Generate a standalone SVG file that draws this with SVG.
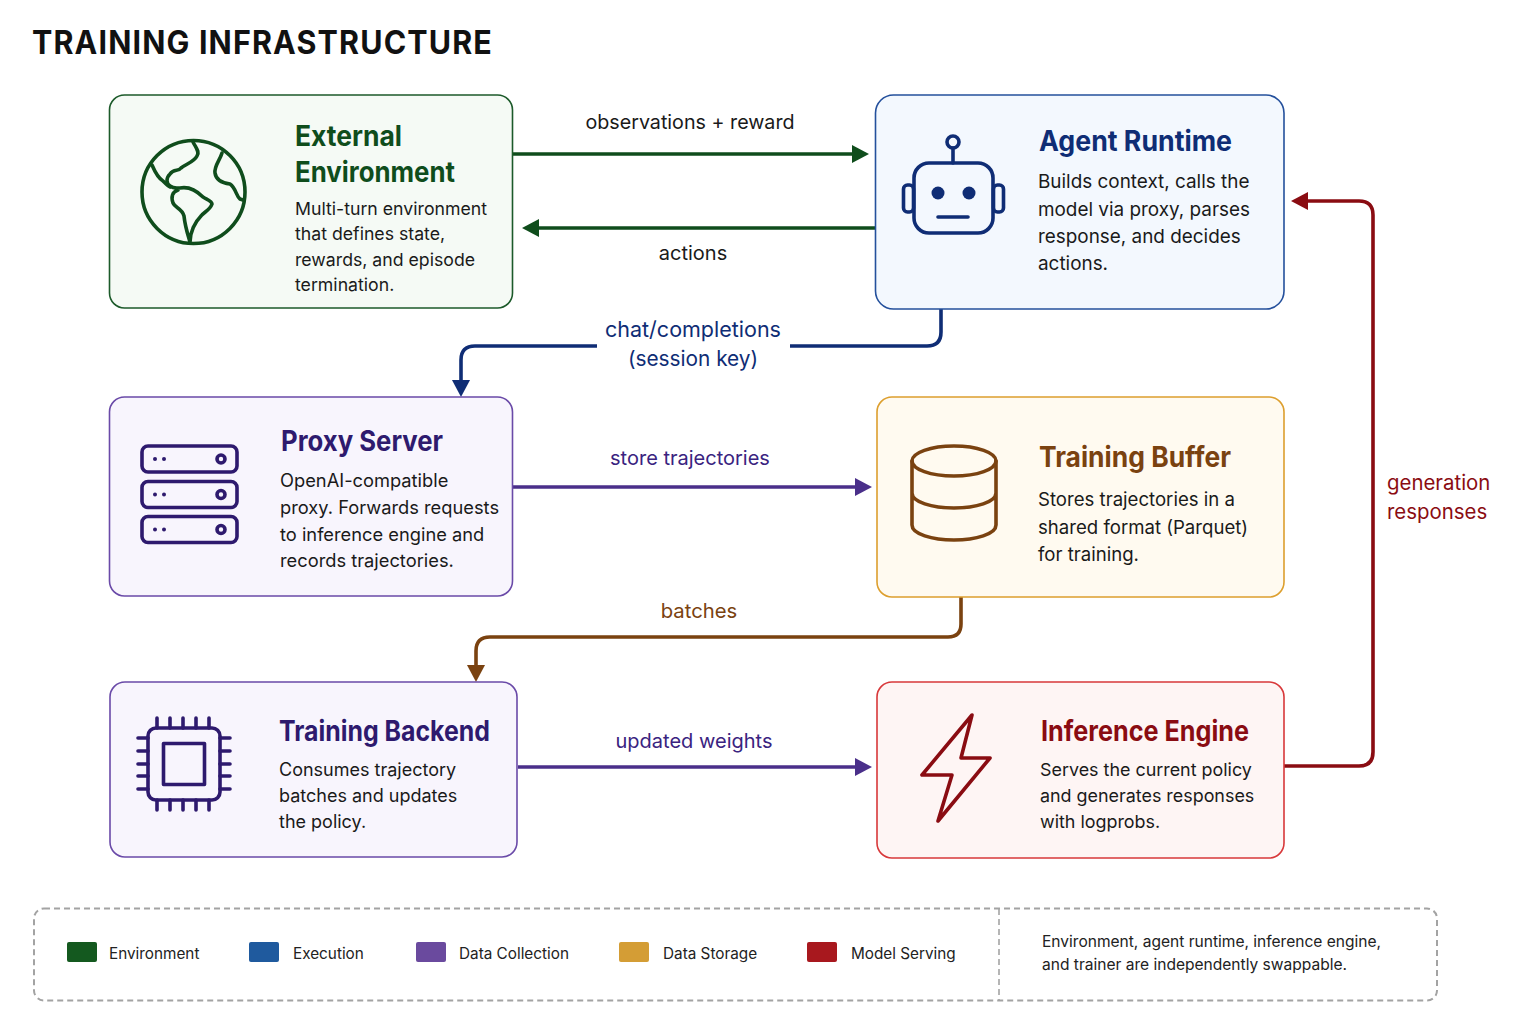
<svg xmlns="http://www.w3.org/2000/svg" width="1535" height="1024" viewBox="0 0 1535 1024">
<style>
text{font-family:Inter,"Noto Sans","Liberation Sans",sans-serif}
.box{stroke-width:1.6}
.t{font-size:28px;font-weight:700}
.b{fill:#1a1a1a}
.l{font-size:20px;text-anchor:middle}
.k{font-size:15.300px;fill:#222}
.i{fill:none;stroke-width:3.6;stroke-linecap:round;stroke-linejoin:round}
.c{fill:none;stroke-width:3.6}
.n{stroke:#0f2d75}.g{stroke:#0f4d1c}.p{stroke:#2e1a6e}.o{stroke:#7a4210}.r{stroke:#8a0c12}
</style>
<defs>
<marker id="ag" markerUnits="userSpaceOnUse" markerWidth="18" markerHeight="20" refX="0" refY="10" orient="auto"><path d="M0,1 L17,10 L0,19z" fill="#0f4d1c"/></marker>
<marker id="an" markerUnits="userSpaceOnUse" markerWidth="18" markerHeight="20" refX="0" refY="10" orient="auto"><path d="M0,1 L17,10 L0,19z" fill="#0f2d75"/></marker>
<marker id="ap" markerUnits="userSpaceOnUse" markerWidth="18" markerHeight="20" refX="0" refY="10" orient="auto"><path d="M0,1 L17,10 L0,19z" fill="#4a2f8a"/></marker>
<marker id="ao" markerUnits="userSpaceOnUse" markerWidth="18" markerHeight="20" refX="0" refY="10" orient="auto"><path d="M0,1 L17,10 L0,19z" fill="#7a4210"/></marker>
<marker id="ar" markerUnits="userSpaceOnUse" markerWidth="18" markerHeight="20" refX="0" refY="10" orient="auto"><path d="M0,1 L17,10 L0,19z" fill="#8a0c12"/></marker>
</defs>
<rect width="1535" height="1024" fill="#fff"/>
<text x="32" y="54" font-size="32" font-weight="700" letter-spacing="1.2" fill="#111" textLength="461" lengthAdjust="spacingAndGlyphs">TRAINING INFRASTRUCTURE</text>

<g id="connectors">
<path class="c" stroke="#0f4d1c" d="M513,154H852" marker-end="url(#ag)"/>
<path class="c" stroke="#0f4d1c" d="M875,228H539" marker-end="url(#ag)"/>
<path class="c" stroke="#0f2d75" d="M941,309V332Q941,346 927,346H790M597,346H475Q461,346 461,360V380" marker-end="url(#an)"/>
<path class="c" stroke="#4a2f8a" d="M513,487H855" marker-end="url(#ap)"/>
<path class="c" stroke="#7a4210" d="M961,597V624Q961,637 948,637H490Q476,637 476,651V665" marker-end="url(#ao)"/>
<path class="c" stroke="#4a2f8a" d="M518,767H855" marker-end="url(#ap)"/>
<path class="c" stroke="#8a0c12" d="M1284,766H1359Q1373,766 1373,752V215Q1373,201 1359,201H1308" marker-end="url(#ar)"/>
<text class="l" x="690" y="129" font-size="19.700" style="font-size:19.700px" fill="#1a1a1a">observations + reward</text>
<text class="l" x="693" y="260" fill="#1a1a1a">actions</text>
<text class="l" x="693" y="337" style="font-size:21.500px" fill="#0f2d75">chat/completions</text>
<text class="l" x="693" y="366" style="font-size:20.800px" fill="#0f2d75">(session key)</text>
<text class="l" x="690" y="465" fill="#3a2380">store trajectories</text>
<text class="l" x="699" y="618" style="font-size:20.300px" fill="#7a4210">batches</text>
<text class="l" x="694" y="748" fill="#3a2380">updated weights</text>
<text x="1387" y="490" font-size="20.400" fill="#8a0c12">generation</text>
<text x="1387" y="519" font-size="20.400" fill="#8a0c12">responses</text>
</g>

<g id="external-environment">
<rect class="box" x="109.500" y="95" width="403" height="213" rx="15" fill="#f5faf5" stroke="#1c5a2a"/>
<g class="i g">
<circle cx="193.500" cy="192" r="51.500"/>
<path d="M193,142C196,148 200,152 197,156C194,162 186,164 181,168C178,172 174,168 170,174C166,178 166,183 170,186C174,189 176,188 180,188C190,186 198,192 203,197C208,200 212,201 212,204C210,210 204,212 201,216C195,222 190,232 190,242C187,232 185,226 184,216C182,208 175,208 173,203C171,197 172,192 178,190"/>
<path d="M152,165C155,172 158,178 163,181C166,184 168,186 170,187"/>
<path d="M222,153C220,160 214,166 215,173C216,180 222,183 230,184C236,188 236,196 240,199L243,200"/>
</g>
<text class="t" x="295" y="146" fill="#0f4d1c" textLength="107" lengthAdjust="spacingAndGlyphs">External</text>
<text class="t" x="295" y="182" fill="#0f4d1c" textLength="160" lengthAdjust="spacingAndGlyphs">Environment</text>
<g font-size="17.700">
<text class="b" x="295" y="215">Multi-turn environment</text>
<text class="b" x="295" y="240">that defines state,</text>
<text class="b" x="295" y="266">rewards, and episode</text>
<text class="b" x="295" y="291">termination.</text>
</g>
</g>

<g id="agent-runtime">
<rect class="box" x="875.500" y="95" width="408.500" height="214" rx="18" fill="#f3f8fe" stroke="#24509c"/>
<g class="i n">
<rect x="914" y="163" width="79" height="70" rx="15"/>
<rect x="903.500" y="185" width="10" height="27" rx="4"/>
<rect x="993.500" y="185" width="10" height="27" rx="4"/>
<circle cx="953" cy="142" r="6"/>
<path d="M953,148V163M938,217H968"/>
</g>
<circle cx="938" cy="193" r="6.500" fill="#0f2d75"/><circle cx="969" cy="193" r="6.500" fill="#0f2d75"/>
<text class="t" x="1039" y="151" fill="#0f2d75" textLength="193" lengthAdjust="spacingAndGlyphs">Agent Runtime</text>
<g font-size="18.900">
<text class="b" x="1038" y="188">Builds context, calls the</text>
<text class="b" x="1038" y="216">model via proxy, parses</text>
<text class="b" x="1038" y="243">response, and decides</text>
<text class="b" x="1038" y="270">actions.</text>
</g>
</g>

<g id="proxy-server">
<rect class="box" x="109.500" y="397" width="403" height="199" rx="15" fill="#f8f5fd" stroke="#6a4aa8"/>
<g class="i p">
<rect x="142" y="446" width="95" height="26" rx="6"/>
<rect x="142" y="481.500" width="95" height="26" rx="6"/>
<rect x="142" y="516.500" width="95" height="26" rx="6"/>
<circle cx="221" cy="459" r="4"/><circle cx="221" cy="494.500" r="4"/><circle cx="221" cy="529.500" r="4"/>
</g>
<g fill="#2e1a6e"><circle cx="155" cy="459" r="2"/><circle cx="164" cy="459" r="2"/><circle cx="155" cy="494.500" r="2"/><circle cx="164" cy="494.500" r="2"/><circle cx="155" cy="529.500" r="2"/><circle cx="164" cy="529.500" r="2"/></g>
<text class="t" x="281" y="451" fill="#2e1a6e" textLength="162" lengthAdjust="spacingAndGlyphs">Proxy Server</text>
<g font-size="18.300">
<text class="b" x="280" y="487">OpenAI-compatible</text>
<text class="b" x="280" y="514">proxy. Forwards requests</text>
<text class="b" x="280" y="541">to inference engine and</text>
<text class="b" x="280" y="567">records trajectories.</text>
</g>
</g>

<g id="training-buffer">
<rect class="box" x="877" y="397" width="407" height="200" rx="15" fill="#fffaf0" stroke="#dd9f2e"/>
<g class="i o">
<ellipse cx="954" cy="461" rx="42" ry="15"/>
<path d="M912,461V525C912,534 932,540 954,540C976,540 996,534 996,525V461M912,493C912,502 932,508 954,508C976,508 996,502 996,493"/>
</g>
<text class="t" x="1039" y="467" fill="#7a4210" textLength="192" lengthAdjust="spacingAndGlyphs">Training Buffer</text>
<g font-size="18.600">
<text class="b" x="1038" y="506">Stores trajectories in a</text>
<text class="b" x="1038" y="534">shared format (Parquet)</text>
<text class="b" x="1038" y="561">for training.</text>
</g>
</g>

<g id="training-backend">
<rect class="box" x="110" y="682" width="407" height="175" rx="15" fill="#f8f5fd" stroke="#6a4aa8"/>
<g class="i p">
<rect x="148" y="728" width="72" height="72" rx="8"/>
<rect x="163.500" y="743.500" width="41" height="41"/>
<path d="M157,718V728M170,718V728M183,718V728M196,718V728M209,718V728M157,800V810M170,800V810M183,800V810M196,800V810M209,800V810M138,738H148M138,751H148M138,764H148M138,776H148M138,789H148M220,738H230M220,751H230M220,764H230M220,776H230M220,789H230"/>
</g>
<text class="t" x="279" y="741" fill="#2e1a6e" textLength="211" lengthAdjust="spacingAndGlyphs">Training Backend</text>
<g font-size="18">
<text class="b" x="279" y="776">Consumes trajectory</text>
<text class="b" x="279" y="802">batches and updates</text>
<text class="b" x="279" y="828">the policy.</text>
</g>
</g>

<g id="inference-engine">
<rect class="box" x="877" y="682" width="407" height="176" rx="15" fill="#fef5f4" stroke="#d8383a"/>
<path class="i r" d="M972,715L922,775H952L938,821L990,758H961Z"/>
<text class="t" x="1041" y="741" fill="#8a0c12" textLength="208" lengthAdjust="spacingAndGlyphs">Inference Engine</text>
<g font-size="17.900">
<text class="b" x="1040" y="776">Serves the current policy</text>
<text class="b" x="1040" y="802">and generates responses</text>
<text class="b" x="1040" y="828">with logprobs.</text>
</g>
</g>

<g id="legend">
<rect x="34" y="908.500" width="1403" height="92" rx="10" fill="none" stroke="#a3a3a3" stroke-width="2" stroke-dasharray="6 4"/>
<path d="M999,909V1000" fill="none" stroke="#a3a3a3" stroke-width="1.600" stroke-dasharray="6 4"/>
<rect x="67" y="942" width="30" height="20" rx="2" fill="#14591f"/>
<text class="k" x="109" y="959">Environment</text>
<rect x="249" y="942" width="30" height="20" rx="2" fill="#1f5a9e"/>
<text class="k" x="293" y="959">Execution</text>
<rect x="416" y="942" width="30" height="20" rx="2" fill="#6a4a9e"/>
<text class="k" x="459" y="959">Data Collection</text>
<rect x="619" y="942" width="30" height="20" rx="2" fill="#d49d35"/>
<text class="k" x="663" y="959">Data Storage</text>
<rect x="807" y="942" width="30" height="20" rx="2" fill="#a8181e"/>
<text class="k" x="851" y="959">Model Serving</text>
<text class="k" x="1042" y="947" style="font-size:15.550px">Environment, agent runtime, inference engine,</text>
<text class="k" x="1042" y="970" style="font-size:15.550px">and trainer are independently swappable.</text>
</g>
</svg>
